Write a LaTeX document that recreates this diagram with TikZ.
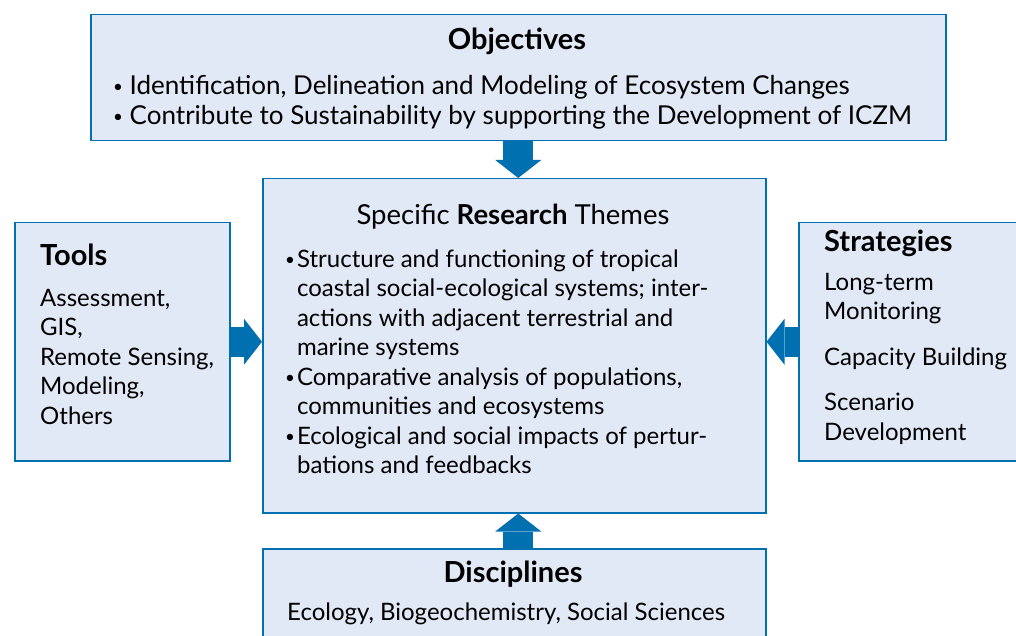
\documentclass[tikz,border=0pt]{standalone}
\usepackage{fontspec}
\setmainfont{Lato}
\usetikzlibrary{positioning, arrows.meta}
\definecolor{boxfill}{HTML}{E2E9F6}
\definecolor{boxline}{HTML}{0070B0}
\newcommand{\smallbul}{\raisebox{2pt}{\fontsize{17}{17}\selectfont\textbullet}}

\begin{document}
\begin{tikzpicture}[x=1pt, y=1pt,
    box/.style={draw=boxline, fill=boxfill, line width=1.5pt, inner sep=0pt, anchor=north west},
    txt/.style={inner sep=0pt, align=left, anchor=base west, font=\fontsize{24}{29.5}\selectfont},
    head/.style={inner sep=0pt, anchor=base, font=\fontsize{29}{30}\selectfont\bfseries},
    bigarrow/.style={draw=boxline, line width=30pt, -{Triangle[width=46pt, length=18pt, line width=0pt]}}]
    \useasboundingbox (0,0) rectangle (1016,635);

    % Boxes
    \node (obj) [box, minimum width=855pt, minimum height=126pt] at (90,621) {};
    \node (res) [box, minimum width=503pt, minimum height=334pt] at (262,457) {};
    \node (tools) [box, minimum width=215pt, minimum height=238pt] at (14,413) {};
    \node (strat) [box, minimum width=240pt, minimum height=238pt] at (798,413) {};
    \node (disc) [box, minimum width=503pt, minimum height=110pt] at (262,87) {};

    % Texts (base anchor = last line)
    \node (objhead) [head] at (517,585) {Objectives};
    \node (objtxt) [txt, font=\fontsize{26}{30}\selectfont] at (113,510) {\smallbul{} Identification, Delineation and Modeling of Ecosystem Changes\\
        \smallbul{} Contribute to Sustainability by supporting the Development of ICZM};

    \node (reshead) [head, font=\fontsize{27.5}{30}\selectfont] at (513,410) {Specific \textbf{Research} Themes};
    \node (restxt) [txt] at (285,161.5) {\smallbul\hspace{2pt}Structure and functioning of tropical\\
        \hphantom{\smallbul\hspace{2pt}}coastal social-ecological systems; inter-\\
        \hphantom{\smallbul\hspace{2pt}}actions with adjacent terrestrial and\\
        \hphantom{\smallbul\hspace{2pt}}marine systems\\
        \smallbul\hspace{2pt}Comparative analysis of populations,\\
        \hphantom{\smallbul\hspace{2pt}}communities and ecosystems\\
        \smallbul\hspace{2pt}Ecological and social impacts of pertur-\\
        \hphantom{\smallbul\hspace{2pt}}bations and feedbacks};

    \node (toolshead) [head, anchor=base west] at (40,369) {Tools};
    \node (toolstxt) [txt] at (40,211) {Assessment,\\ GIS,\\ Remote Sensing,\\ Modeling,\\ Others};

    \node (strathead) [head, anchor=base west] at (824,383) {Strategies};
    \node (strattxt) [txt] at (824,195) {Long-term\\ Monitoring\\[16pt] Capacity Building\\[16pt] Scenario\\ Development};

    \node (dischead) [head] at (513,53) {Disciplines};
    \node (disctxt) [txt] at (287,15) {Ecology, Biogeochemistry, Social Sciences};

    % Arrows
    \draw[bigarrow] (obj.south) -- (obj.south |- res.north);
    \draw[bigarrow] (tools.east) -- (tools.east -| res.west);
    \draw[bigarrow] (strat.west) -- (strat.west -| res.east);
    \draw[bigarrow] (disc.north -| obj.south) -- (res.south -| obj.south);
\end{tikzpicture}
\end{document}
